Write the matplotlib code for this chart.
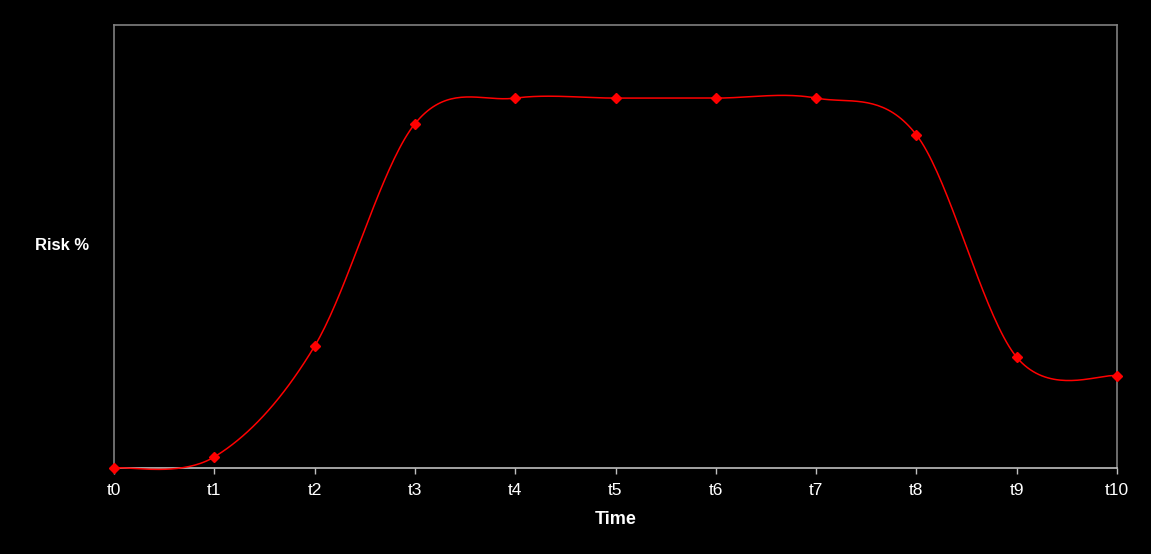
import matplotlib
matplotlib.use("Agg")
import matplotlib.pyplot as plt
import numpy as np

labels = ["t0", "t1", "t2", "t3", "t4", "t5", "t6", "t7", "t8", "t9", "t10"]
risk = [0, 2.5, 27.5, 77.7, 83.5, 83.5, 83.5, 83.5, 75.2, 25.0, 20.8]


# Excel-like smoothed line: cubic bezier with Catmull-Rom control points
def smooth(xs, ys, n=40):
    xs = np.asarray(xs, float)
    ys = np.asarray(ys, float)
    px = np.concatenate([[xs[0]], xs, [xs[-1]]])
    py = np.concatenate([[ys[0]], ys, [ys[-1]]])
    out_x, out_y = [], []
    t = np.linspace(0, 1, n)
    for i in range(1, len(px) - 2):
        p0 = np.array([px[i], py[i]])
        p3 = np.array([px[i + 1], py[i + 1]])
        c1 = p0 + (np.array([px[i + 1], py[i + 1]]) - np.array([px[i - 1], py[i - 1]])) / 6
        c2 = p3 - (np.array([px[i + 2], py[i + 2]]) - np.array([px[i], py[i]])) / 6
        b = ((1 - t) ** 3)[:, None] * p0 + (3 * (1 - t) ** 2 * t)[:, None] * c1 \
            + (3 * (1 - t) * t ** 2)[:, None] * c2 + (t ** 3)[:, None] * p3
        out_x.extend(b[:, 0])
        out_y.extend(b[:, 1])
    return out_x, out_y


plt.rcParams['font.family'] = ['Liberation Sans', 'DejaVu Sans']

fig = plt.figure(figsize=(11.51, 5.54), dpi=100, facecolor="black")
ax = fig.add_axes([114 / 1151, 1 - 468 / 554, (1117 - 114) / 1151, (468 - 25) / 554])
ax.set_facecolor("black")

x = np.arange(len(labels))
sx, sy = smooth(x, risk)
ax.plot(sx, sy, color="#ff0000", lw=1.1, zorder=3, clip_on=False)
ax.plot(x, risk, linestyle="none", marker="D", markersize=5, color="#ff0000",
        zorder=4, clip_on=False)

ax.set_xlim(0, len(labels) - 1)
ax.set_ylim(0, 100)
ax.set_xticks(x)
ax.set_xticklabels(labels, color="white", fontsize=12.5)
ax.set_yticks([])
ax.tick_params(axis="x", direction="out", length=4, width=1, color="#c0c0c0", pad=7)

for side in ["top", "left", "right"]:
    ax.spines[side].set_color("#808080")
    ax.spines[side].set_linewidth(1.2)
ax.spines["bottom"].set_color("#c0c0c0")
ax.spines["bottom"].set_linewidth(1.2)

ax.set_xlabel("Time", color="white", fontsize=13, fontweight="bold", labelpad=9)
fig.text(35 / 1151, 1 - 246 / 554, "Risk %", color="white", fontsize=12,
         fontweight="bold", ha="left", va="center")

fig.savefig("out.png", dpi=100, facecolor="black")
